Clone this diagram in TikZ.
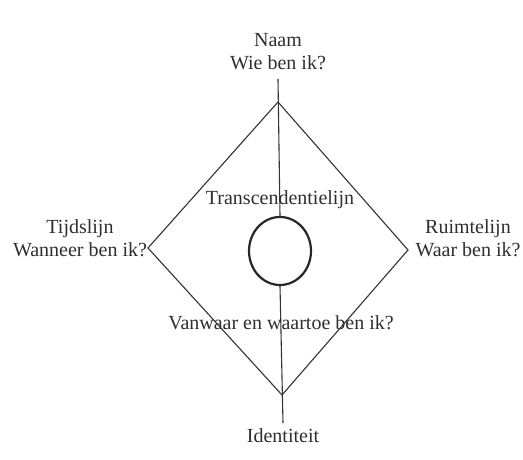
\documentclass[tikz,border=0pt]{standalone}
\usepackage{fontspec}
\usetikzlibrary{shapes.geometric}
\setmainfont{Liberation Serif}
\begin{document}
\begin{tikzpicture}[x=1pt,y=1pt,
  lbl/.style={font=\fontsize{20}{23}\selectfont, text=black!82, align=center, inner sep=0pt},
  ln/.style={draw=black!80, line width=1.1pt}]
\useasboundingbox (0,0) rectangle (523,460);
% coordinates: tikz y = 460 - image y
\coordinate (T) at (278,358);
\coordinate (L) at (148,212);
\coordinate (R) at (408,210);
\coordinate (B) at (282,65);
\coordinate (top) at (278,381);
\coordinate (bot) at (283,37);
\node[draw=black!85, line width=2.2pt, ellipse, minimum width=62, minimum height=68, inner sep=0pt] (c) at (280,209) {};
\draw[ln] (T) -- (L) -- (B) -- (R) -- cycle;
\draw[ln] (top) -- (c.north);
\draw[ln] (c.south) -- (bot);
\node[lbl] (naam) at (278,408) {Naam\\Wie ben ik?};
\node[lbl] (tijd) at (80,222) {Tijdslijn\\Wanneer ben ik?};
\node[lbl] (ruimte) at (468,222) {Ruimtelijn\\Waar ben ik?};
\node[lbl] (trans) at (280,260) {Transcendentielijn};
\node[lbl] (van) at (281,137) {Vanwaar en waartoe ben ik?};
\node[lbl] (id) at (283,24) {Identiteit};
\end{tikzpicture}
\end{document}
